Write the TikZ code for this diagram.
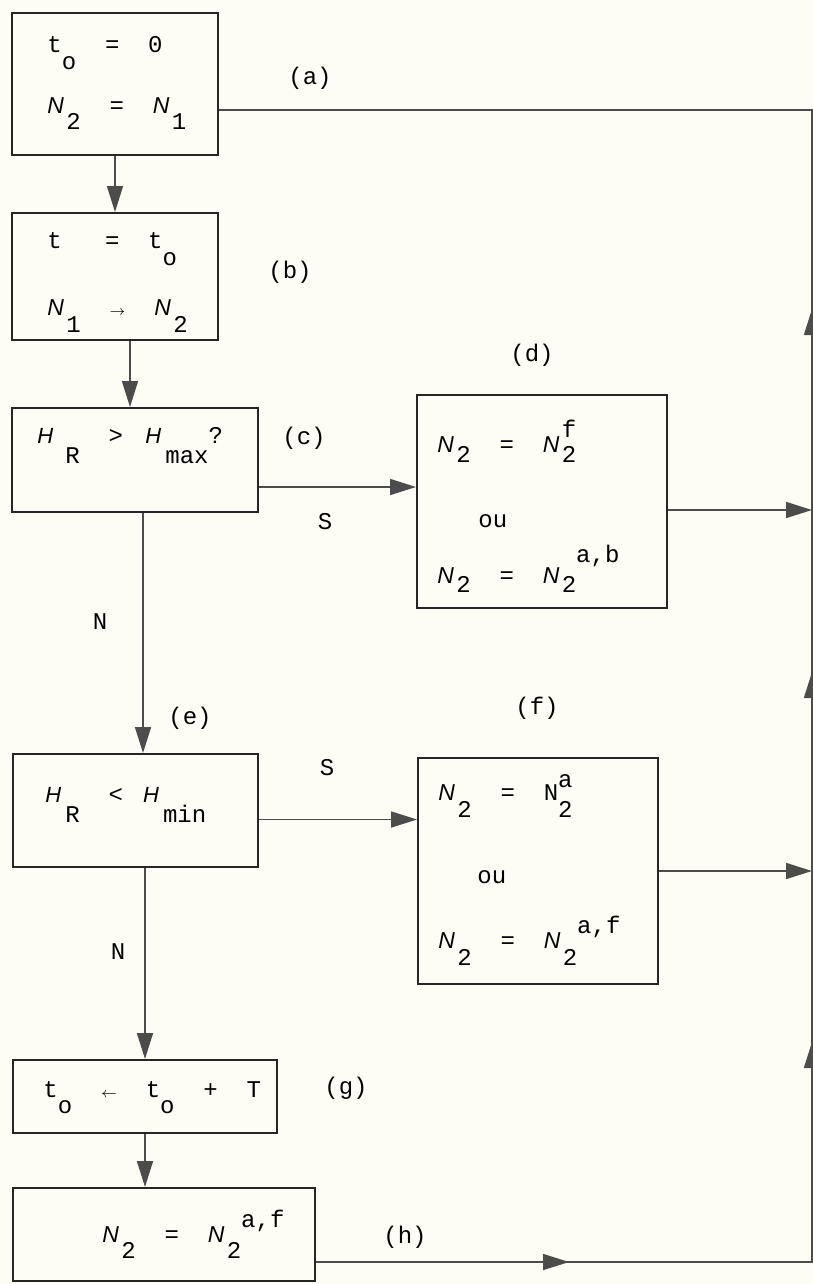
\documentclass[tikz,border=0pt]{standalone}
\usepackage{fontspec}
\setmonofont{Liberation Mono}
\newfontfamily\varfont{Liberation Sans}
\usetikzlibrary{arrows.meta,decorations.markings}
\definecolor{paper}{RGB}{253,253,245}
\newcommand{\lo}[2][8.5pt]{\raisebox{-#1}{#2}}
\newcommand{\iN}{\makebox[9.5pt][l]{\varfont\itshape\fontsize{11.5}{13}\selectfont N}}
\newcommand{\iH}{\makebox[10pt][l]{\varfont\itshape\fontsize{11}{13}\selectfont H}}
\begin{document}
\begin{tikzpicture}[x=0.5pt,y=-0.5pt,
    box/.style={draw=black!85,line width=1pt,inner sep=0pt},
    arr/.style={draw=black!70,line width=0.8pt,-{Triangle[length=13pt,width=8pt]}},
    txt/.style={anchor=base west,inner sep=0pt,font=\ttfamily\fontsize{12}{14}\selectfont},
    lab/.style={inner sep=0pt,font=\ttfamily\fontsize{12}{14}\selectfont}]
  \fill[paper] (0,0) rectangle (813,1284);
  \useasboundingbox (0,0) rectangle (813,1284);

  % boxes
  \node[box,minimum width=103pt,minimum height=71pt] (boxa) at (115,84) {};
  \node[box,minimum width=103pt,minimum height=63.5pt] (boxb) at (115,276.5) {};
  \node[box,minimum width=123pt,minimum height=52pt] (boxc) at (135,460) {};
  \node[box,minimum width=125pt,minimum height=106.5pt] (boxd) at (542,501.5) {};
  \node[box,minimum width=122.5pt,minimum height=56.5pt] (boxe) at (135.5,810.5) {};
  \node[box,minimum width=120pt,minimum height=113pt] (boxf) at (538,871) {};
  \node[box,minimum width=132pt,minimum height=36.5pt] (boxg) at (145,1096.5) {};
  \node[box,minimum width=151pt,minimum height=46.5pt] (boxh) at (164,1234.5) {};

  % box texts
  \node[txt] (a1) at (47,53) {t\lo{o}~~=~~0};
  \node[txt] (a2) at (47,113) {\iN\lo{2}~~=~~\iN\lo{1}};
  \node[txt] (b1) at (47,248) {t~~~=~~t\lo{o}};
  \node[txt] (b2) at (47,315) {\iN\lo{1}~~{\scriptsize$\rightarrow$}~~\iN\lo{2}};
  \node[txt] (c1) at (37,443) {\iH\hspace{4pt}\lo[10pt]{R}~~>~\hspace{4pt}\iH\lo[10pt]{max}?};
  \node[txt] (d1) at (437,452) {\iN\lo[5pt]{2}~~=~~\iN\rlap{\raisebox{7.5pt}{f}}\lo[5pt]{2}};
  \node[txt] (d2) at (478,527) {ou};
  \node[txt] (d3) at (437,583) {\iN\lo[4.5pt]{2}~~=~~\iN\lo[4.5pt]{2}\raisebox{10.5pt}{a,b}};
  \node[txt] (e1) at (45,802) {\iH\lo[10pt]{R}~~<\hspace{10pt}\iH\lo[10pt]{min}};
  \node[txt] (f1) at (438,800) {\iN\lo{2}~~=~~N\rlap{\raisebox{6.5pt}{a}}\lo{2}};
  \node[txt] (f2) at (477,883) {ou};
  \node[txt] (f3) at (438,948) {\iN\lo{2}~~=~~\iN\lo{2}\raisebox{7.5pt}{a,f}};
  \node[txt] (g1) at (43,1097) {t\lo[8pt]{o}~~{\scriptsize$\leftarrow$}~~t\lo[8pt]{o}~~+~~T};
  \node[txt] (h1) at (102,1242) {\iN\lo[8pt]{2}~~=~~\iN\lo[8pt]{2}\raisebox{7.5pt}{a,f}};

  % labels
  \node[lab] (la) at (310,78) {(a)};
  \node[lab] (lb) at (290,272) {(b)};
  \node[lab] (lc) at (304,438) {(c)};
  \node[lab] (ld) at (532,355) {(d)};
  \node[lab] (le) at (190,718) {(e)};
  \node[lab] (lf) at (537,708) {(f)};
  \node[lab] (lg) at (346,1088) {(g)};
  \node[lab] (lh) at (405,1237) {(h)};
  \node[lab] (s1) at (325,522) {S};
  \node[lab] (s2) at (327,768) {S};
  \node[lab] (n1) at (100,622) {N};
  \node[lab] (n2) at (118,952) {N};

  % connectors
  \coordinate (rail) at (812,0);
  \coordinate (cd) at ([yshift=-13.5pt]boxc.east);
  \coordinate (ce) at ([xshift=4pt]boxc.south);
  \coordinate (ef) at ([yshift=-4.5pt]boxe.east);
  \coordinate (eg) at ([xshift=4.75pt]boxe.south);
  \coordinate (dx) at ([yshift=-4.25pt]boxd.east);
  \coordinate (hx) at ([yshift=-13.75pt]boxh.east);
  \coordinate (ax) at ([yshift=-13pt]boxa.east);
  \draw[arr] (boxa) -- (boxb);
  \draw[arr] ([xshift=7.5pt]boxb.south) -- ([xshift=-2.5pt]boxc.north);
  \draw[arr] (cd) -- (cd -| boxd.west);
  \draw[arr] (ce) -- (ce |- boxe.north);
  \draw[arr] (ef) -- (ef -| boxf.west);
  \draw[arr] (eg) -- (eg |- boxg.north);
  \draw[arr] (boxg.south) -- (boxg.south |- boxh.north);
  \draw[arr] (dx) -- (dx -| rail);
  \draw[arr] (boxf.east) -- (boxf.east -| rail);
  \draw[draw=black!70,color=black!70,line width=0.8pt,postaction={decorate},
    decoration={markings,
      mark=at position 126.5pt with {\arrow{Triangle[length=13pt,width=8pt]}},
      mark=at position 358pt with {\arrow{Triangle[length=13pt,width=8pt]}},
      mark=at position 543pt with {\arrow{Triangle[length=13pt,width=8pt]}},
      mark=at position 724.5pt with {\arrow{Triangle[length=13pt,width=8pt]}}}]
    (hx) -- (hx -| rail) -- (ax -| rail) -- (ax);
\end{tikzpicture}
\end{document}
